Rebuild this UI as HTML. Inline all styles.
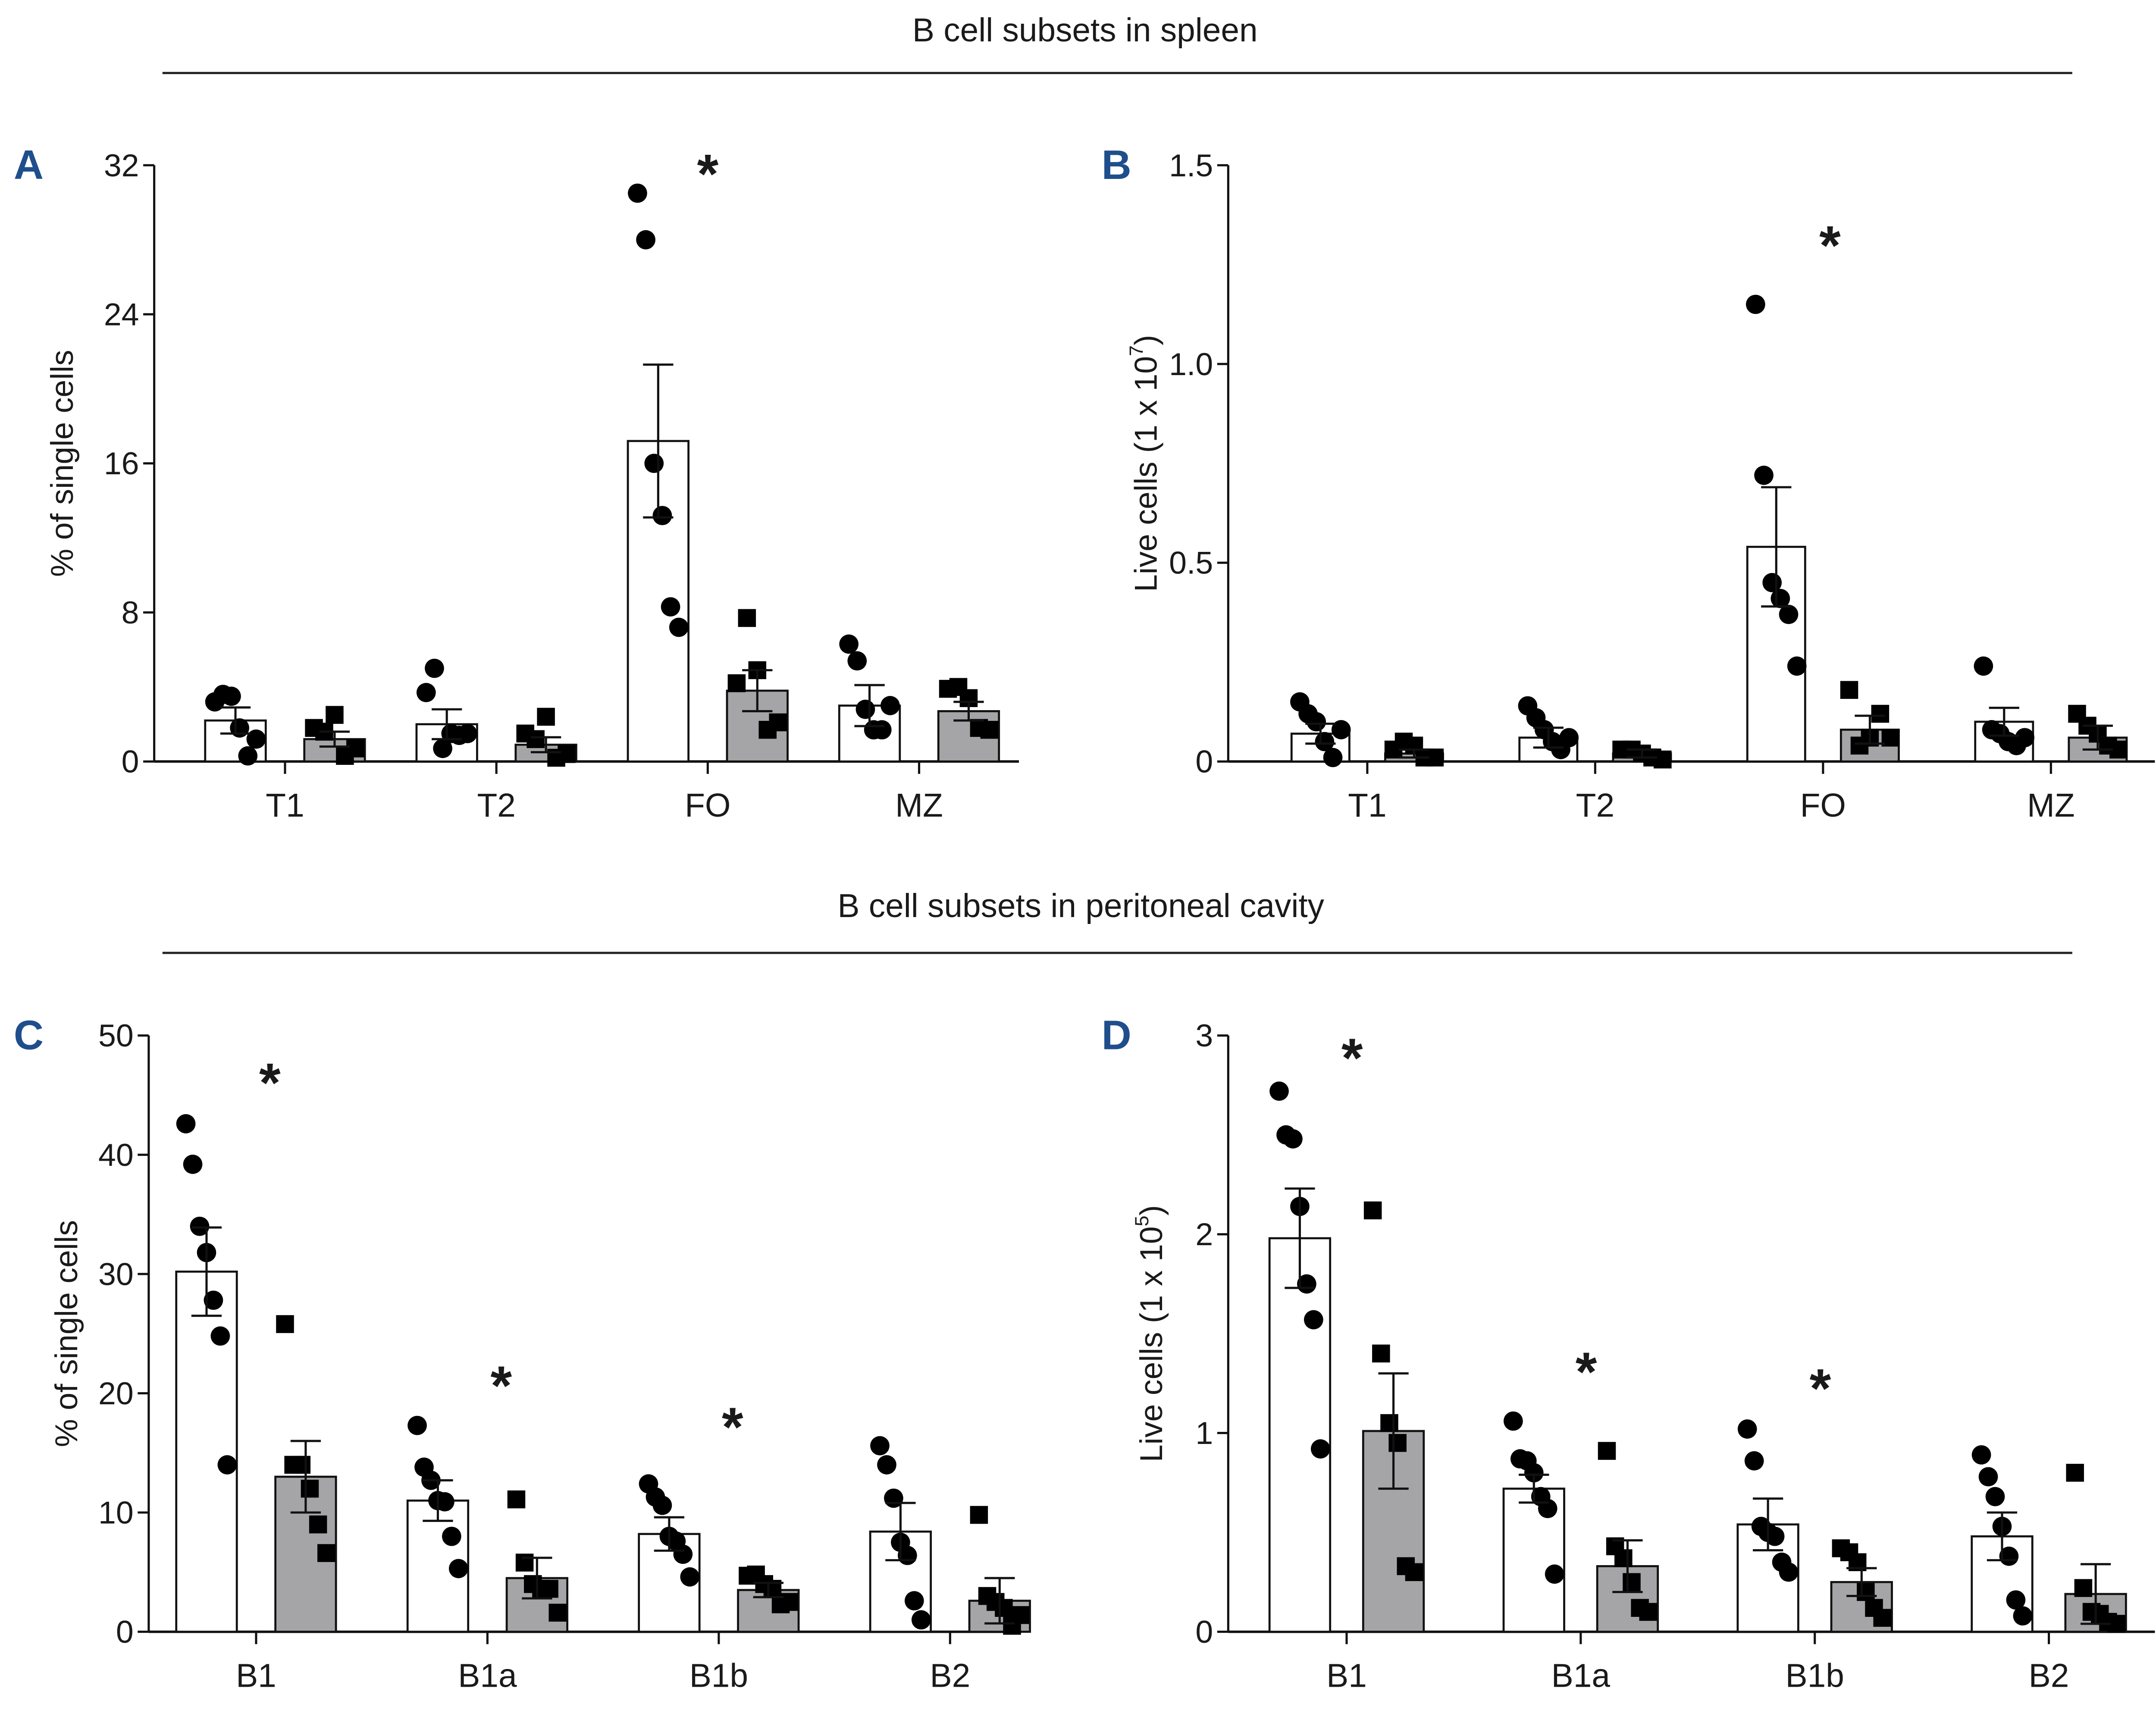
<!DOCTYPE html>
<html><head><meta charset="utf-8"><style>
html,body{margin:0;padding:0;background:#fff}
svg{display:block}
text{font-family:"Liberation Sans",Arial,sans-serif;fill:#1a1a1a}
</style></head><body>
<svg id="fig" width="5007" height="3973" viewBox="0 0 1568 1244" preserveAspectRatio="none" xmlns="http://www.w3.org/2000/svg">
<text x="788" y="30" font-size="24" text-anchor="middle">B cell subsets in spleen</text>
<line x1="118" y1="53" x2="1505" y2="53" stroke="#222" stroke-width="1.6"/>
<text x="785" y="666" font-size="24" text-anchor="middle">B cell subsets in peritoneal cavity</text>
<line x1="118" y1="692" x2="1505" y2="692" stroke="#222" stroke-width="1.6"/>
<g id="panels"></g>
</svg>
<script>
// ---- Panel A data ----
const catsA = ["T1","T2","FO","MZ"];
const ticksA = [0,8,16,24,32];
const meanWA = [2.2,2.0,17.2,3.0];
const errWA = [0.7,0.8,4.1,1.1];
const ptsWA = [[3.2,3.6,3.5,1.8,0.3,1.2],[3.7,5.0,0.7,1.5,1.4,1.5],[30.5,28.0,16.0,13.2,8.3,7.2],[6.3,5.4,2.8,1.7,1.7,3.0]];
const meanGA = [1.2,0.9,3.8,2.7];
const errGA = [0.4,0.4,1.1,0.5];
const ptsGA = [[1.8,1.6,2.5,0.3,0.7],[1.5,1.2,2.4,0.2,0.4],[4.2,7.7,4.9,1.7,2.1],[3.9,4.0,3.4,1.8,1.7]];
const starA = [2];
// ---- Panel B data ----
const catsB = ["T1","T2","FO","MZ"];
const ticksB = [0,0.5,1.0,1.5];
const tickLabB = ["0","0.5","1.0","1.5"];
const meanWB = [0.07,0.06,0.54,0.10];
const errWB = [0.025,0.025,0.15,0.035];
const ptsWB = [[0.15,0.12,0.10,0.05,0.01,0.08],[0.14,0.11,0.08,0.05,0.03,0.06],[1.15,0.72,0.45,0.41,0.37,0.24],[0.24,0.08,0.07,0.05,0.04,0.06]];
const meanGB = [0.02,0.02,0.08,0.06];
const errGB = [0.01,0.01,0.035,0.03];
const ptsGB = [[0.03,0.05,0.04,0.01,0.01],[0.03,0.03,0.02,0.01,0.005],[0.18,0.04,0.06,0.12,0.06],[0.12,0.09,0.07,0.04,0.03]];
const starB = [2];
// ---- Panel C data ----
const catsC = ["B1","B1a","B1b","B2"];
const ticksC = [0,10,20,30,40,50];
const meanWC = [30.2,11.0,8.2,8.4];
const errWC = [3.7,1.7,1.4,2.4];
const ptsWC = [[42.6,39.2,34.0,31.8,27.8,24.8,14.0],[17.3,13.8,12.7,11.0,10.9,8.0,5.3],[12.4,11.3,10.6,8.0,7.6,6.5,4.6],[15.6,14.0,11.2,7.5,6.4,2.6,1.0]];
const meanGC = [13.0,4.5,3.5,2.6];
const errGC = [3.0,1.7,0.6,1.9];
const ptsGC = [[25.8,14.0,14.0,12.0,9.0,6.6],[11.1,5.8,4.0,3.6,3.6,1.6],[4.7,4.8,4.0,3.6,2.3,2.5],[9.8,3.0,2.5,2.0,0.5,1.4]];
const starC = [0,1,2];
// ---- Panel D data ----
const catsD = ["B1","B1a","B1b","B2"];
const ticksD = [0,1,2,3];
const meanWD = [1.98,0.72,0.54,0.48];
const errWD = [0.25,0.07,0.13,0.12];
const ptsWD = [[2.72,2.50,2.48,2.14,1.75,1.57,0.92],[1.06,0.87,0.86,0.80,0.68,0.62,0.29],[1.02,0.86,0.53,0.50,0.48,0.35,0.30],[0.89,0.78,0.68,0.53,0.38,0.16,0.08]];
const meanGD = [1.01,0.33,0.25,0.19];
const errGD = [0.29,0.13,0.07,0.15];
const ptsGD = [[2.12,1.40,1.05,0.95,0.33,0.30],[0.91,0.43,0.37,0.25,0.12,0.10],[0.42,0.40,0.35,0.20,0.12,0.07],[0.80,0.22,0.10,0.09,0.05,0.04]];
const starD = [0,1,2];

const NS = "http://www.w3.org/2000/svg";
const root = document.getElementById('panels');
function mk(tag, attrs, parent){const e=document.createElementNS(NS,tag);for(const k in attrs)e.setAttribute(k,attrs[k]);(parent||root).appendChild(e);return e;}

function panel(cfg){
  const g = mk('g',{});
  
  
  const y = v => cfg.y0 - (v/cfg.max)*(cfg.y0-cfg.yTop);
  const x = i => cfg.x0c + i*cfg.step;
  const L = mk('text',{x:cfg.letterX,y:cfg.yTop+10,'font-size':30,'font-weight':'bold',style:'fill:#1f4e8c'},g);
  L.textContent = cfg.id.toUpperCase();
  
  
  const ya = mk('line',{x1:cfg.ax,y1:cfg.yTop,x2:cfg.ax,y2:cfg.y0,stroke:'#111','stroke-width':1.6},g);
  
  
  cfg.ticks.forEach((t,i)=>{
    mk('line',{x1:cfg.ax-8,y1:y(t),x2:cfg.ax,y2:y(t),stroke:'#111','stroke-width':1.6},g);
    const tl = mk('text',{x:cfg.ax-11,y:y(t)+8,'font-size':23,'text-anchor':'end'},g);
    tl.textContent = cfg.tickLab ? cfg.tickLab[i] : String(t);
    
    
  });
  const yt = mk('text',{x:0,y:0,'font-size':23,'text-anchor':'middle',transform:`translate(${cfg.titleX},${(cfg.yTop+cfg.y0)/2}) rotate(-90)`},g);
  yt.innerHTML = cfg.title;
  
  
  const xa = mk('line',{x1:cfg.ax,y1:cfg.y0,x2:cfg.axEnd,y2:cfg.y0,stroke:'#111','stroke-width':1.8},g);
  
  
  const bw = cfg.bw;
  cfg.cats.forEach((c,i)=>{
    const cx = x(i);
    mk('line',{x1:cx,y1:cfg.y0,x2:cx,y2:cfg.y0+9,stroke:'#111','stroke-width':1.6},g);
    const cl = mk('text',{x:cx,y:cfg.y0+40,'font-size':24,'text-anchor':'middle'},g);
    cl.textContent = c;
    
    
    [['W',-cfg.off,'#fff',cfg.meanW,cfg.errW,cfg.ptsW],['G',cfg.off,'#a5a5a7',cfg.meanG,cfg.errG,cfg.ptsG]].forEach(s=>{
      const bx = cx + s[1];
      const m = s[3][i], e = s[4][i];
      const bar = mk('rect',{x:bx-bw/2,y:y(m),width:bw,height:cfg.y0-y(m),fill:s[2],stroke:'#111','stroke-width':1.5},g);
      
      
      const pts = s[5][i], n = pts.length;
      pts.forEach((v,k)=>{
        const px = bx - 15 + (n>1 ? 30*k/(n-1) : 15);
        let mkr;
        if(s[0]==='W') mkr = mk('circle',{cx:px,cy:y(v),r:7,fill:'#000'},g);
        else mkr = mk('rect',{x:px-6.5,y:y(v)-6.5,width:13,height:13,fill:'#000'},g);
        
        
      });
      const eb = mk('path',{d:`M${bx},${y(m+e)}V${y(m-e)}M${bx-11},${y(m+e)}H${bx+11}M${bx-11},${y(m-e)}H${bx+11}`,stroke:'#111','stroke-width':1.6,fill:'none'},g);
      
      
    });
  });
  cfg.stars.forEach(i=>{
    const st = mk('text',{x:x(i)+cfg.starDx,y:cfg.starY[i]!==undefined?cfg.starY[i]:0,'font-size':40,'font-weight':'bold','text-anchor':'middle'},g);
    st.textContent = '*';
    
    
  });
}

panel({id:'a',ax:112,axEnd:740,y0:553,yTop:120,max:32,ticks:ticksA,cats:catsA,x0c:207,step:153.5,off:36,bw:44,
  meanW:meanWA,errW:errWA,ptsW:ptsWA,meanG:meanGA,errG:errGA,ptsG:ptsGA,stars:starA,starDx:0,starY:{2:140},
  letterX:10,titleX:53,title:'% of single cells'});
panel({id:'b',ax:892,axEnd:1565,y0:553,yTop:120,max:1.5,ticks:ticksB,tickLab:tickLabB,cats:catsB,x0c:993,step:165.5,off:34,bw:42,
  meanW:meanWB,errW:errWB,ptsW:ptsWB,meanG:meanGB,errG:errGB,ptsG:ptsGB,stars:starB,starDx:5,starY:{2:192},
  letterX:800,titleX:840,title:'Live cells (1 x 10<tspan font-size="14" dy="-10">7</tspan><tspan dy="10">)</tspan>'});
panel({id:'c',ax:108,axEnd:740,y0:1185,yTop:752,max:50,ticks:ticksC,cats:catsC,x0c:186,step:168,off:36,bw:44,
  meanW:meanWC,errW:errWC,ptsW:ptsWC,meanG:meanGC,errG:errGC,ptsG:ptsGC,stars:starC,starDx:10,starY:{0:800,1:1020,2:1050},
  letterX:10,titleX:56,title:'% of single cells'});
panel({id:'d',ax:892,axEnd:1565,y0:1185,yTop:752,max:3,ticks:ticksD,cats:catsD,x0c:978,step:170,off:34,bw:44,
  meanW:meanWD,errW:errWD,ptsW:ptsWD,meanG:meanGD,errG:errGD,ptsG:ptsGD,stars:starD,starDx:4,starY:{0:782,1:1010,2:1022},
  letterX:800,titleX:844,title:'Live cells (1 x 10<tspan font-size="14" dy="-10">5</tspan><tspan dy="10">)</tspan>'});
</script>
</body></html>
